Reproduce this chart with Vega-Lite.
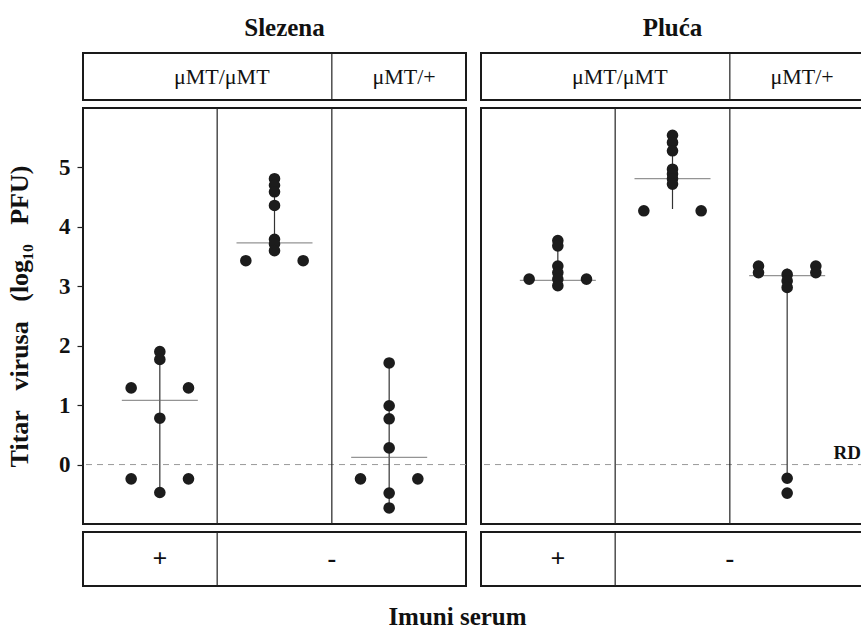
{
  "$schema": "https://vega.github.io/schema/vega-lite/v6.json",
  "padding": {"left": 5, "right": 0, "top": 15, "bottom": 0},
  "config": {
    "view": {"stroke": "#1a1a1a", "strokeWidth": 2},
    "font": "Liberation Serif",
    "text": {"font": "Liberation Serif", "color": "#111"},
    "title": {"font": "Liberation Serif", "color": "#111"}
  },
  "title": {"text": "Imuni serum", "orient": "bottom", "anchor": "middle", "fontSize": 25, "fontWeight": "bold", "offset": 17, "dx": 22},
  "datasets": {
    "points": [
      {"organ": "Slezena", "col": "A", "slot": "C", "titer": 1.90},
      {"organ": "Slezena", "col": "A", "slot": "C", "titer": 1.77},
      {"organ": "Slezena", "col": "A", "slot": "L", "titer": 1.29},
      {"organ": "Slezena", "col": "A", "slot": "R", "titer": 1.29},
      {"organ": "Slezena", "col": "A", "slot": "C", "titer": 0.78},
      {"organ": "Slezena", "col": "A", "slot": "L", "titer": -0.24},
      {"organ": "Slezena", "col": "A", "slot": "R", "titer": -0.24},
      {"organ": "Slezena", "col": "A", "slot": "C", "titer": -0.47},
      {"organ": "Slezena", "col": "B", "slot": "C", "titer": 4.81},
      {"organ": "Slezena", "col": "B", "slot": "C", "titer": 4.70},
      {"organ": "Slezena", "col": "B", "slot": "C", "titer": 4.59},
      {"organ": "Slezena", "col": "B", "slot": "C", "titer": 4.36},
      {"organ": "Slezena", "col": "B", "slot": "C", "titer": 3.79},
      {"organ": "Slezena", "col": "B", "slot": "C", "titer": 3.71},
      {"organ": "Slezena", "col": "B", "slot": "C", "titer": 3.60},
      {"organ": "Slezena", "col": "B", "slot": "L", "titer": 3.43},
      {"organ": "Slezena", "col": "B", "slot": "R", "titer": 3.43},
      {"organ": "Slezena", "col": "C", "slot": "C", "titer": 1.71},
      {"organ": "Slezena", "col": "C", "slot": "C", "titer": 0.99},
      {"organ": "Slezena", "col": "C", "slot": "C", "titer": 0.77},
      {"organ": "Slezena", "col": "C", "slot": "C", "titer": 0.28},
      {"organ": "Slezena", "col": "C", "slot": "L", "titer": -0.24},
      {"organ": "Slezena", "col": "C", "slot": "R", "titer": -0.24},
      {"organ": "Slezena", "col": "C", "slot": "C", "titer": -0.48},
      {"organ": "Slezena", "col": "C", "slot": "C", "titer": -0.73},
      {"organ": "Pluća", "col": "A", "slot": "C", "titer": 3.77},
      {"organ": "Pluća", "col": "A", "slot": "C", "titer": 3.68},
      {"organ": "Pluća", "col": "A", "slot": "C", "titer": 3.34},
      {"organ": "Pluća", "col": "A", "slot": "C", "titer": 3.23},
      {"organ": "Pluća", "col": "A", "slot": "C", "titer": 3.12},
      {"organ": "Pluća", "col": "A", "slot": "C", "titer": 3.01},
      {"organ": "Pluća", "col": "A", "slot": "L", "titer": 3.12},
      {"organ": "Pluća", "col": "A", "slot": "R", "titer": 3.12},
      {"organ": "Pluća", "col": "B", "slot": "C", "titer": 5.54},
      {"organ": "Pluća", "col": "B", "slot": "C", "titer": 5.42},
      {"organ": "Pluća", "col": "B", "slot": "C", "titer": 5.28},
      {"organ": "Pluća", "col": "B", "slot": "C", "titer": 4.97},
      {"organ": "Pluća", "col": "B", "slot": "C", "titer": 4.89},
      {"organ": "Pluća", "col": "B", "slot": "C", "titer": 4.81},
      {"organ": "Pluća", "col": "B", "slot": "C", "titer": 4.72},
      {"organ": "Pluća", "col": "B", "slot": "L", "titer": 4.27},
      {"organ": "Pluća", "col": "B", "slot": "R", "titer": 4.27},
      {"organ": "Pluća", "col": "C", "slot": "L", "titer": 3.34},
      {"organ": "Pluća", "col": "C", "slot": "L", "titer": 3.23},
      {"organ": "Pluća", "col": "C", "slot": "R", "titer": 3.34},
      {"organ": "Pluća", "col": "C", "slot": "R", "titer": 3.23},
      {"organ": "Pluća", "col": "C", "slot": "C", "titer": 3.20},
      {"organ": "Pluća", "col": "C", "slot": "C", "titer": 3.09},
      {"organ": "Pluća", "col": "C", "slot": "C", "titer": 2.98},
      {"organ": "Pluća", "col": "C", "slot": "C", "titer": -0.23},
      {"organ": "Pluća", "col": "C", "slot": "C", "titer": -0.48}
    ],
    "summary": [
      {"organ": "Slezena", "col": "A", "mean": 1.08, "lo": -0.47, "hi": 1.90},
      {"organ": "Slezena", "col": "B", "mean": 3.73, "lo": 3.60, "hi": 4.81},
      {"organ": "Slezena", "col": "C", "mean": 0.12, "lo": -0.73, "hi": 1.71},
      {"organ": "Pluća", "col": "A", "mean": 3.10, "lo": 3.01, "hi": 3.77},
      {"organ": "Pluća", "col": "B", "mean": 4.81, "lo": 4.30, "hi": 5.54},
      {"organ": "Pluća", "col": "C", "mean": 3.18, "lo": -0.23, "hi": 3.30}
    ],
    "dividers": [{"col": "B"}, {"col": "C"}]
  },
  "spacing": 11,
  "resolve": {"scale": {"x": "independent", "y": "independent"}},
  "hconcat": [
    {
      "spacing": 4,
      "resolve": {"scale": {"x": "independent", "y": "independent"}},
      "vconcat": [
        {
          "width": 383, "height": 47,
          "title": {"text": "Slezena", "fontSize": 25, "fontWeight": "bold", "anchor": "middle", "frame": "group", "offset": 11, "dx": 10},
          "layer": [
            {
              "data": {"values": [{"col": "C"}]},
              "mark": {"type": "rule", "color": "#222", "strokeWidth": 1.2},
              "encoding": {"x": {"field": "col", "type": "nominal", "bandPosition": 0, "scale": {"type": "band", "domain": ["A", "B", "C"], "paddingInner": 0, "paddingOuter": 0.17}, "axis": null}}
            },
            {
              "data": {"values": [{"label": "μMT/μMT", "col": "B"}]},
              "mark": {"type": "text", "fontSize": 22},
              "encoding": {"x": {"field": "col", "type": "nominal", "bandPosition": 0.04}, "text": {"field": "label"}}
            },
            {
              "data": {"values": [{"label": "μMT/+", "col": "C"}]},
              "mark": {"type": "text", "fontSize": 22},
              "encoding": {"x": {"field": "col", "type": "nominal", "bandPosition": 0.63}, "text": {"field": "label"}}
            }
          ]
        },
        {
          "width": 383, "height": 416,
          "layer": [
            {
              "data": {"values": [{"v": 0}]},
              "mark": {"type": "rule", "strokeDash": [6, 5], "color": "#999", "strokeWidth": 1},
              "encoding": {"y": {"field": "v", "type": "quantitative", "scale": {"domain": [-1, 6], "nice": false, "zero": false},
                "axis": {"values": [0, 1, 2, 3, 4, 5], "format": "d", "domain": false, "grid": false, "tickSize": 6, "tickColor": "#222", "tickWidth": 1.2, "labelFontSize": 23, "labelFontWeight": "bold", "labelColor": "#111", "labelPadding": 7, "labelFont": "Liberation Serif",
                  "title": "Titar\u00a0\u00a0\u00a0virusa\u00a0\u00a0\u00a0(log₁₀\u00a0\u00a0\u00a0PFU)", "titleFontSize": 26, "titleFontWeight": "bold", "titleColor": "#111", "titleFont": "Liberation Serif", "titlePadding": 26}}}
            },
            {
              "data": {"name": "dividers"},
              "mark": {"type": "rule", "color": "#222", "strokeWidth": 1.2},
              "encoding": {"x": {"field": "col", "type": "nominal", "bandPosition": 0, "scale": {"type": "band", "domain": ["A", "B", "C"], "paddingInner": 0, "paddingOuter": 0.17}, "axis": null}}
            },
            {
              "data": {"name": "summary"},
              "transform": [{"filter": "datum.organ === 'Slezena'"}],
              "mark": {"type": "rule", "color": "#333", "strokeWidth": 1.2},
              "encoding": {"x": {"field": "col", "type": "nominal"}, "y": {"field": "lo", "type": "quantitative"}, "y2": {"field": "hi"}}
            },
            {
              "data": {"name": "summary"},
              "transform": [{"filter": "datum.organ === 'Slezena'"}],
              "mark": {"type": "tick", "orient": "horizontal", "color": "#666", "thickness": 1.2, "size": 76},
              "encoding": {"x": {"field": "col", "type": "nominal"}, "y": {"field": "mean", "type": "quantitative"}}
            },
            {
              "data": {"name": "points"},
              "transform": [{"filter": "datum.organ === 'Slezena'"}],
              "mark": {"type": "point", "filled": true, "size": 135, "color": "#1c1c1c", "opacity": 1},
              "encoding": {
                "x": {"field": "col", "type": "nominal"},
                "xOffset": {"field": "slot", "type": "nominal", "scale": {"domain": ["L", "C", "R"], "paddingInner": 0, "paddingOuter": 2.2}},
                "y": {"field": "titer", "type": "quantitative"}
              }
            }
          ]
        },
        {
          "width": 383, "height": 54,
          "layer": [
            {
              "data": {"values": [{"col": "B"}]},
              "mark": {"type": "rule", "color": "#222", "strokeWidth": 1.2},
              "encoding": {"x": {"field": "col", "type": "nominal", "bandPosition": 0, "scale": {"type": "band", "domain": ["A", "B", "C"], "paddingInner": 0, "paddingOuter": 0.17}, "axis": null}}
            },
            {
              "data": {"values": [{"label": "+", "col": "A"}]},
              "mark": {"type": "text", "fontSize": 26, "fontWeight": "bold"},
              "encoding": {"x": {"field": "col", "type": "nominal", "bandPosition": 0.5}, "text": {"field": "label"}}
            },
            {
              "data": {"values": [{"label": "-", "col": "C"}]},
              "mark": {"type": "text", "fontSize": 26, "fontWeight": "bold"},
              "encoding": {"x": {"field": "col", "type": "nominal", "bandPosition": 0}, "text": {"field": "label"}}
            }
          ]
        }
      ]
    },
    {
      "spacing": 4,
      "resolve": {"scale": {"x": "independent", "y": "independent"}},
      "vconcat": [
        {
          "width": 383, "height": 47,
          "title": {"text": "Pluća", "fontSize": 25, "fontWeight": "bold", "anchor": "middle", "frame": "group", "offset": 11, "dx": 0},
          "layer": [
            {
              "data": {"values": [{"col": "C"}]},
              "mark": {"type": "rule", "color": "#222", "strokeWidth": 1.2},
              "encoding": {"x": {"field": "col", "type": "nominal", "bandPosition": 0, "scale": {"type": "band", "domain": ["A", "B", "C"], "paddingInner": 0, "paddingOuter": 0.17}, "axis": null}}
            },
            {
              "data": {"values": [{"label": "μMT/μMT", "col": "B"}]},
              "mark": {"type": "text", "fontSize": 22},
              "encoding": {"x": {"field": "col", "type": "nominal", "bandPosition": 0.04}, "text": {"field": "label"}}
            },
            {
              "data": {"values": [{"label": "μMT/+", "col": "C"}]},
              "mark": {"type": "text", "fontSize": 22},
              "encoding": {"x": {"field": "col", "type": "nominal", "bandPosition": 0.63}, "text": {"field": "label"}}
            }
          ]
        },
        {
          "width": 383, "height": 416,
          "layer": [
            {
              "data": {"values": [{"v": 0}]},
              "mark": {"type": "rule", "strokeDash": [6, 5], "color": "#999", "strokeWidth": 1},
              "encoding": {"y": {"field": "v", "type": "quantitative", "scale": {"domain": [-1, 6], "nice": false, "zero": false}, "axis": null}}
            },
            {
              "data": {"name": "dividers"},
              "mark": {"type": "rule", "color": "#222", "strokeWidth": 1.2},
              "encoding": {"x": {"field": "col", "type": "nominal", "bandPosition": 0, "scale": {"type": "band", "domain": ["A", "B", "C"], "paddingInner": 0, "paddingOuter": 0.17}, "axis": null}}
            },
            {
              "data": {"name": "summary"},
              "transform": [{"filter": "datum.organ === 'Pluća'"}],
              "mark": {"type": "rule", "color": "#333", "strokeWidth": 1.2},
              "encoding": {"x": {"field": "col", "type": "nominal"}, "y": {"field": "lo", "type": "quantitative"}, "y2": {"field": "hi"}}
            },
            {
              "data": {"name": "summary"},
              "transform": [{"filter": "datum.organ === 'Pluća'"}],
              "mark": {"type": "tick", "orient": "horizontal", "color": "#666", "thickness": 1.2, "size": 76},
              "encoding": {"x": {"field": "col", "type": "nominal"}, "y": {"field": "mean", "type": "quantitative"}}
            },
            {
              "data": {"name": "points"},
              "transform": [{"filter": "datum.organ === 'Pluća'"}],
              "mark": {"type": "point", "filled": true, "size": 135, "color": "#1c1c1c", "opacity": 1},
              "encoding": {
                "x": {"field": "col", "type": "nominal"},
                "xOffset": {"field": "slot", "type": "nominal", "scale": {"domain": ["L", "C", "R"], "paddingInner": 0, "paddingOuter": 2.2}},
                "y": {"field": "titer", "type": "quantitative"}
              }
            },
            {
              "data": {"values": [{"label": "RD", "v": 0, "col": "C"}]},
              "mark": {"type": "text", "fontSize": 19, "fontWeight": "bold", "align": "right", "baseline": "bottom", "dx": -3, "dy": -2},
              "encoding": {"x": {"field": "col", "type": "nominal", "bandPosition": 1.17}, "y": {"field": "v", "type": "quantitative"}, "text": {"field": "label"}}
            }
          ]
        },
        {
          "width": 383, "height": 54,
          "layer": [
            {
              "data": {"values": [{"col": "B"}]},
              "mark": {"type": "rule", "color": "#222", "strokeWidth": 1.2},
              "encoding": {"x": {"field": "col", "type": "nominal", "bandPosition": 0, "scale": {"type": "band", "domain": ["A", "B", "C"], "paddingInner": 0, "paddingOuter": 0.17}, "axis": null}}
            },
            {
              "data": {"values": [{"label": "+", "col": "A"}]},
              "mark": {"type": "text", "fontSize": 26, "fontWeight": "bold"},
              "encoding": {"x": {"field": "col", "type": "nominal", "bandPosition": 0.5}, "text": {"field": "label"}}
            },
            {
              "data": {"values": [{"label": "-", "col": "C"}]},
              "mark": {"type": "text", "fontSize": 26, "fontWeight": "bold"},
              "encoding": {"x": {"field": "col", "type": "nominal", "bandPosition": 0}, "text": {"field": "label"}}
            }
          ]
        }
      ]
    }
  ]
}
